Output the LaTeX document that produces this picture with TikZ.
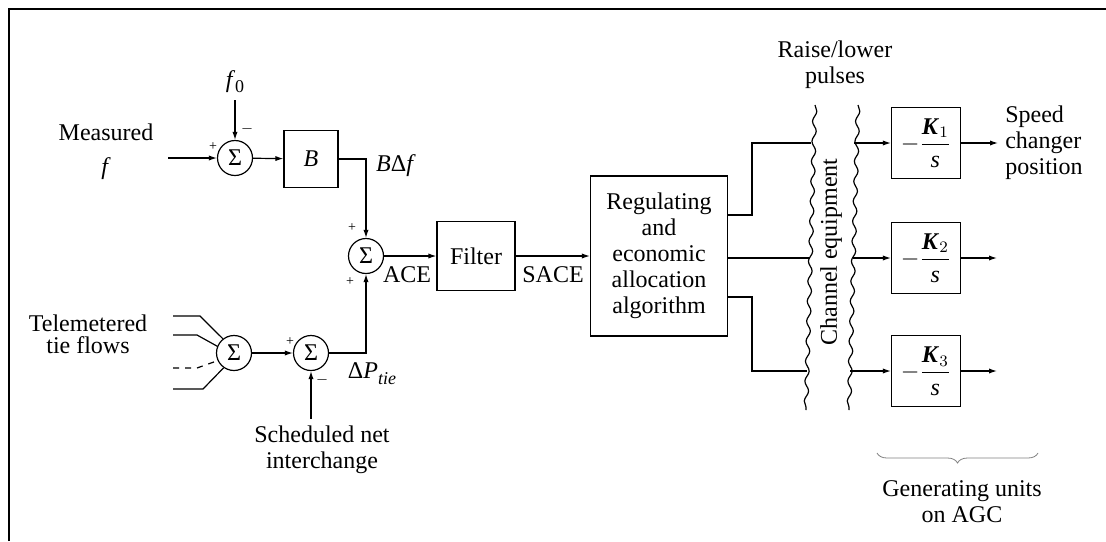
\documentclass[tikz,border=0pt]{standalone}
\usepackage{amsmath}
\usepackage{fontspec}
\setmainfont{Liberation Serif}
\usetikzlibrary{arrows.meta,decorations.pathmorphing,decorations.pathreplacing}

\begin{document}
\begin{tikzpicture}[x=0.5pt,y=-0.5pt,font=\fontsize{12}{13}\selectfont,line width=0.6pt,
  sumnode/.style={draw,circle,minimum size=17.5pt,inner sep=0pt},
  blockbox/.style={draw,align=center,inner sep=1pt},
  gainbox/.style={draw,minimum width=34.5pt,minimum height=35.5pt,inner sep=0pt},
  sgn/.style={font=\fontsize{7}{7}\selectfont,inner sep=0pt},
  sig/.style={-{Latex[length=4pt,width=2.6pt]}},
  channel/.style={decorate,decoration={snake,amplitude=1pt,segment length=10pt}}]

  \useasboundingbox (0,0) rectangle (1106,541);
  \draw[line width=1.1pt] (9,541) -- (9,9) -- (1106,9);

  % frequency bias
  \node[align=center] (meas) at (106,152) {Measured\\[4pt]\textit{f}};
  \coordinate (measin) at (168,158);
  \node[sumnode] (s1) at (235,158) {Σ};
  \node (f0) at (235,82) {\textit{f}\raisebox{-2.5pt}{\small 0}};
  \node[blockbox,minimum width=27pt,minimum height=28.5pt] (bias) at (311,159) {\textit{B}};
  \node[sumnode] (s2) at (366,256) {Σ};
  \node (bdf) at (396,166) {\textit{B}Δ\textit{f}};
  \draw[sig] (measin) -- (s1);
  \draw[sig] (f0.south) -- (s1.north);
  \draw[sig] (s1) -- (bias);
  \draw[sig] (bias.east) -| (s2.north);
  \node[sgn] (p1) at (213,147) {+};
  \node[sgn] (m1) at (247,129) {$-$};
  \node[sgn] (p2) at (352,228) {+};
  \node[sgn] (p3) at (350,282) {+};

  % tie flows
  \node[align=center] (tele) at (88,334) {Telemetered\\[-2pt]tie flows};
  \node[sumnode] (s3) at (234,353) {Σ};
  \foreach \i/\yy/\xx/\aa/\ls in {1/316/200/128/solid,2/335/197/158/solid,3/368/197/205/dashed,4/389/203/235/solid}{
    \coordinate (tie\i) at (173,\yy);
    \draw[\ls] (tie\i) -- (\xx,\yy) -- (s3.\aa);
  }
  \node[sumnode] (s4) at (311,353) {Σ};
  \node[align=center] (sched) at (322,450) {Scheduled net\\interchange};
  \node (dptie) at (372,374) {Δ\textit{P}\raisebox{-3pt}{\small\textit{tie}}};
  \draw[sig] (s3) -- (s4);
  \draw[sig] (sched.north -| s4) -- (s4.south);
  \draw[sig] (s4.east) -| (s2.south);
  \node[sgn] (p4) at (290,342) {+};
  \node[sgn] (m4) at (322,380) {$-$};

  % filter and allocation
  \node[blockbox,minimum width=39pt,minimum height=34.5pt] (filt) at (476,256) {Filter};
  \node[blockbox,minimum width=68.5pt,minimum height=80pt] (alloc) at (659,256)
        {Regulating\\and\\economic\\allocation\\algorithm};
  \node (ace) at (407,275) {ACE};
  \node (sace) at (553,275) {SACE};
  \draw[sig] (s2) -- (filt);
  \draw[sig] (filt) -- (alloc);

  % channel equipment
  \draw[channel] (815,105) -- (806,410);
  \draw[channel] (858,105) -- (849,410);
  \node[rotate=90] (chan) at (831,252) {Channel equipment};
  \node[align=center] (pulses) at (835,65) {Raise/lower\\pulses};

  % generating units
  \node[gainbox] (k1) at (926,143) {$-\dfrac{\textbf{\textit{K}}_1}{\textit{s}}$};
  \node[gainbox] (k2) at (926,258) {$-\dfrac{\textbf{\textit{K}}_2}{\textit{s}}$};
  \node[gainbox] (k3) at (926,371) {$-\dfrac{\textbf{\textit{K}}_3}{\textit{s}}$};
  \node[align=left,anchor=west] (speed) at (998,143) {Speed\\changer\\position};
  \coordinate (out2) at (997,258);
  \coordinate (out3) at (997,371);

  \coordinate (a1) at ([yshift=20.5pt]alloc.east);
  \coordinate (a3) at ([yshift=-20.5pt]alloc.east);
  \coordinate (cl1) at (811,143);
  \coordinate (cl2) at (810,258);
  \coordinate (cl3) at (807,371);
  \coordinate (cr1) at (854,143);
  \coordinate (cr2) at (853,258);
  \coordinate (cr3) at (850,371);
  \draw (a1) -- (752,215) -- (752,143) -- (cl1);
  \draw (alloc.east |- cl2) -- (cl2);
  \draw (a3) -- (752,297) -- (752,371) -- (cl3);
  \draw[sig] (cr1) -- (k1);
  \draw[sig] (cr2) -- (k2);
  \draw[sig] (cr3) -- (k3);
  \draw[sig] (k1) -- (speed.west);
  \draw[sig] (k2) -- (out2);
  \draw[sig] (k3) -- (out3);

  \coordinate (brl) at (877,453);
  \coordinate (brr) at (1038,453);
  \draw[gray,line width=0.4pt,decorate,decoration={brace,mirror,amplitude=5pt}] (brl) -- (brr);
  \node[align=center] (gen) at (962,502) {Generating units\\on AGC};
\end{tikzpicture}
\end{document}
